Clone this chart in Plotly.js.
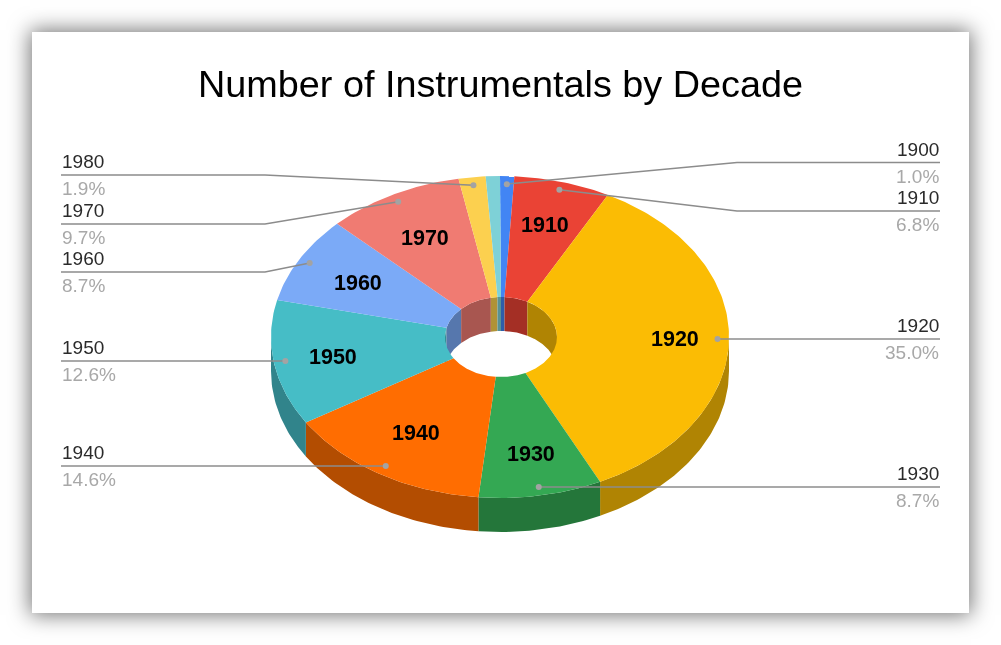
<!DOCTYPE html>
<html>
<head>
<meta charset="utf-8">
<script src="https://cdn.plot.ly/plotly-3.0.0.min.js"></script>
<style>
html,body{margin:0;padding:0;background:#fff;width:1001px;height:645px;overflow:hidden}
#card{position:absolute;left:32px;top:32px;width:937px;height:581px;background:#fff;box-shadow:0 0 20px 2px rgba(0,0,0,.55)}
#chart{position:absolute;left:0;top:0;width:1001px;height:645px;filter:blur(0.3px)}
</style>
</head>
<body>
<div id="card"></div>
<div id="chart"></div>
<script>
// ---- data, clockwise from 12 o'clock ----
const decades = ['1900','1910','1920','1930','1940','1950','1960','1970','1980','1990'];
const shares  = [1.0, 6.8, 35.0, 8.7, 14.6, 12.6, 8.7, 9.7, 1.9, 1.0];
const colors  = ['#4285f4','#ea4335','#fbbc04','#34a853','#ff6d01','#46bdc6','#7baaf7','#f07b72','#fcd04f','#7ed1d7'];
const wallColors = ['#2e5dab','#a42f25','#b08403','#24763a','#b34d01','#31848b','#5677ad','#a85650','#b09237','#589296'];
const titleText = 'Number of Instrumentals by Decade';

// ---- layout constants (pixels of the page) ----
const CX = 500, CY = 337, RX = 229, RY = 161, DEPTH = 34;
const HX = 56, HY = 40, HCX = 501;
const INLABEL_F = 0.74, DOT_F = 0.95;
const inlabelDecades = ['1910','1920','1930','1940','1950','1960','1970'];
const inlabelNudgeX  = [-1, 6, 1, 5, 0, 6, 4];
const inlabelNudgeY  = [3, 0, 0, -5, 1, 4, 6];
const leaderDecades = ['1900','1910','1920','1930','1940','1950','1960','1970','1980'];
const leaderLineY   = [162.5, 211, 339, 487, 466, 361, 272, 224, 175];
const leaderSide    = ['R','R','R','R','L','L','L','L','L'];
const leaderHasBend = [1,1,0,0,0,0,1,1,1];
const BEND_R = 737, BEND_L = 265, END_R = 940, END_L = 61;

// ---- geometry helpers ----
const rad = d => d * Math.PI / 180;
const total = shares.reduce((a,b)=>a+b,0);
let acc = 0;
const slices = decades.map((d,i)=>{
  const a0 = acc/total*360; acc += shares[i]; const a1 = acc/total*360;
  return {d, i, a0, a1, mid:(a0+a1)/2};
});
function arc(cx,cy,rx,ry,a0,a1){
  const n = Math.max(2, Math.ceil(Math.abs(a1-a0)));
  const xs=[], ys=[];
  for(let k=0;k<=n;k++){
    const t = rad(a0+(a1-a0)*k/n);
    xs.push(cx+rx*Math.sin(t)); ys.push(cy-ry*Math.cos(t));
  }
  return {xs,ys};
}
function poly(A,B,color){
  const xs = A.xs.concat(B.xs.slice().reverse()); xs.push(xs[0]);
  const ys = A.ys.concat(B.ys.slice().reverse()); ys.push(ys[0]);
  return {type:'scatter',mode:'lines',x:xs,y:ys,fill:'toself',fillcolor:color,
          line:{width:0,color:color},hoverinfo:'skip',showlegend:false};
}
const traces = [];
// outer wall (front half only)
slices.forEach(s=>{
  const a0=Math.max(s.a0,90), a1=Math.min(s.a1,270);
  if(a1>a0) traces.push(poly(arc(CX,CY,RX,RY,a0,a1),arc(CX,CY+DEPTH,RX,RY,a0,a1),wallColors[s.i]));
});
// inner wall of the hole (back half only)
slices.forEach(s=>{
  [[s.a0,Math.min(s.a1,90)],[Math.max(s.a0,270),s.a1]].forEach(([a0,a1])=>{
    if(a1>a0) traces.push(poly(arc(HCX,CY,HX,HY,a0,a1),arc(HCX,CY+DEPTH,HX,HY,a0,a1),wallColors[s.i]));
  });
});
// top face
slices.forEach(s=>{
  traces.push(poly(arc(CX,CY,RX,RY,s.a0,s.a1),arc(HCX,CY,HX,HY,s.a0,s.a1),colors[s.i]));
});
// leaders
const byName = Object.fromEntries(slices.map(s=>[s.d,s]));
const dotX=[], dotY=[], annotations=[];
leaderDecades.forEach((d,k)=>{
  const s = byName[d], t = rad(s.mid);
  const px = CX+RX*DOT_F*Math.sin(t), py = CY-RY*DOT_F*Math.cos(t);
  dotX.push(px); dotY.push(py);
  const right = leaderSide[k]==='R', ly = leaderLineY[k];
  const xs=[px], ys=[py];
  if(leaderHasBend[k]){ xs.push(right?BEND_R:BEND_L); ys.push(ly); }
  else { ys[0]=ly; dotY[k]=ly; }
  xs.push(right?END_R:END_L); ys.push(ly);
  traces.push({type:'scatter',mode:'lines',x:xs,y:ys,line:{color:'#8c8c8c',width:1.5},hoverinfo:'skip',showlegend:false});
  const tx = right?END_R+1:END_L-1, anchor = right?'right':'left';
  annotations.push({xref:'x',yref:'y',x:tx,y:ly-13.5,text:d,showarrow:false,xanchor:anchor,yanchor:'middle',
    font:{family:'"Liberation Sans",Arial,sans-serif',size:19,color:'#2a2a2a'}});
  annotations.push({xref:'x',yref:'y',x:tx,y:ly+13.5,text:shares[decades.indexOf(d)].toFixed(1)+'%',showarrow:false,xanchor:anchor,yanchor:'middle',
    font:{family:'"Liberation Sans",Arial,sans-serif',size:19,color:'#a8a8a8'}});
});
traces.push({type:'scatter',mode:'markers',x:dotX,y:dotY,marker:{color:'#a3a3a3',size:6,line:{width:0}},hoverinfo:'skip',showlegend:false});
// labels on the slices
inlabelDecades.forEach((d,k)=>{
  const t = rad(byName[d].mid);
  annotations.push({xref:'x',yref:'y',
    x:CX+RX*INLABEL_F*Math.sin(t)+inlabelNudgeX[k],
    y:CY-RY*INLABEL_F*Math.cos(t)+inlabelNudgeY[k],
    text:'<b>'+d+'</b>',showarrow:false,xanchor:'center',yanchor:'middle',
    font:{family:'"Liberation Sans",Arial,sans-serif',size:21.5,color:'#000000'}});
});

Plotly.newPlot('chart',traces,{
  width:1001,height:645,autosize:false,
  margin:{l:0,r:0,t:0,b:0,pad:0},
  paper_bgcolor:'rgba(0,0,0,0)',plot_bgcolor:'rgba(0,0,0,0)',
  showlegend:false,
  title:{text:titleText,x:500.5/1001,xanchor:'center',xref:'paper',y:1-84/645,yref:'paper',yanchor:'middle',
    font:{family:'"Liberation Sans",Arial,sans-serif',size:37.8,color:'#000000'}},
  xaxis:{range:[0,1001],visible:false,fixedrange:true},
  yaxis:{range:[645,0],visible:false,fixedrange:true},
  annotations
},{staticPlot:true,displayModeBar:false});
</script>
</body>
</html>
